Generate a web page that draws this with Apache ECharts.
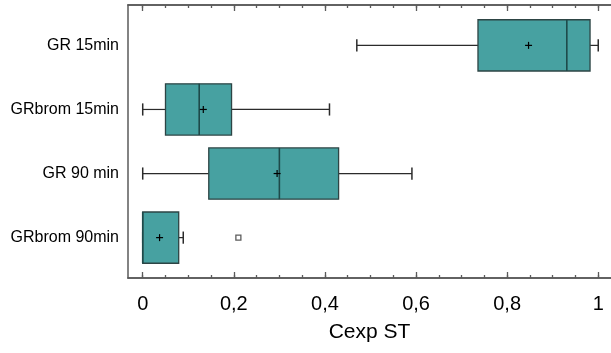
<!DOCTYPE html>
<html>
<head>
<meta charset="utf-8">
<script src="https://cdn.jsdelivr.net/npm/echarts@6/dist/echarts.min.js"></script>
<style>
  html, body { margin: 0; padding: 0; background: #fff; }
  #chart { width: 611px; height: 353px; }
</style>
</head>
<body>
<div id="chart"></div>
<script>
const categories = ['GR 15min', 'GRbrom 15min', 'GR 90 min', 'GRbrom 90min'];
const whiskerLow = [0.47, 0, 0, 0];
const q1 = [0.736, 0.05, 0.145, 0];
const median = [0.931, 0.124, 0.3, 0];
const q3 = [0.982, 0.195, 0.43, 0.079];
const whiskerHigh = [1.0, 0.41, 0.591, 0.089];
const means = [0.847, 0.133, 0.295, 0.037];
const outliers = [[0.21, 3]];

const majorTicks = [0, 0.2, 0.4, 0.6, 0.8, 1];
const minorTicks = [0, 0.05, 0.1, 0.15, 0.2, 0.25, 0.3, 0.35, 0.4, 0.45, 0.5,
  0.55, 0.6, 0.65, 0.7, 0.75, 0.8, 0.85, 0.9, 0.95, 1];

const FRAME = '#5a5a5a';
const FONT = 'Liberation Sans, Arial, sans-serif';

const chart = echarts.init(document.getElementById('chart'));

const boxData = categories.map((c, i) => [
  whiskerLow[i], q1[i], median[i], q3[i], whiskerHigh[i], means[i], i
]);

function renderBox(params, api) {
  const idx = api.value(6);
  const pt = (v) => api.coord([v, idx]);
  const boxH = api.size([0, 0.8])[1];
  const capH = api.size([0, 0.19])[1];
  const pMin = pt(api.value(0));
  const pQ1 = pt(api.value(1));
  const pMed = pt(api.value(2));
  const pQ3 = pt(api.value(3));
  const pMax = pt(api.value(4));
  const pMean = pt(api.value(5));
  const cy = pQ1[1];
  const line = (x1, y1, x2, y2, color, w) => ({
    type: 'line',
    shape: { x1, y1, x2, y2 },
    style: { stroke: color, lineWidth: w }
  });
  const whisk = '#2b2b2b';
  return {
    type: 'group',
    children: [
      line(pMin[0], cy, pQ1[0], cy, whisk, 1.2),
      line(pQ3[0], cy, pMax[0], cy, whisk, 1.2),
      line(pMin[0], cy - capH / 2, pMin[0], cy + capH / 2, whisk, 1.5),
      line(pMax[0], cy - capH / 2, pMax[0], cy + capH / 2, whisk, 1.5),
      {
        type: 'rect',
        shape: { x: pQ1[0], y: cy - boxH / 2, width: pQ3[0] - pQ1[0], height: boxH },
        style: { fill: '#47a1a1', stroke: '#2d4444', lineWidth: 1.3 }
      },
      line(pMed[0], cy - boxH / 2, pMed[0], cy + boxH / 2, '#1e4a4a', 1.6),
      line(pMean[0] - 3.5, cy, pMean[0] + 3.5, cy, '#000', 1.2),
      line(pMean[0], cy - 3.5, pMean[0], cy + 3.5, '#000', 1.2)
    ]
  };
}

const baseX = {
  type: 'value',
  min: -0.0323,
  max: 1.028,
  splitLine: { show: false },
  axisLine: { show: true, onZero: false, lineStyle: { color: FRAME, width: 1.5 } }
};

chart.setOption({
  animation: false,
  grid: { left: 128, right: 0, top: 5, bottom: 75 },
  xAxis: [
    Object.assign({}, baseX, {
      position: 'bottom',
      name: 'Cexp ST',
      nameLocation: 'middle',
      nameGap: 44,
      nameTextStyle: { fontFamily: FONT, fontSize: 21, color: '#000' },
      axisTick: { show: true, inside: true, length: 6, customValues: majorTicks,
        lineStyle: { color: FRAME, width: 1.3 } },
      axisLabel: { show: true, customValues: majorTicks, margin: 16,
        fontFamily: FONT, fontSize: 20, color: '#000',
        formatter: (v) => String(+v.toFixed(2)).replace('.', ',') }
    }),
    Object.assign({}, baseX, {
      position: 'bottom',
      axisTick: { show: true, inside: true, length: 3, customValues: minorTicks,
        lineStyle: { color: FRAME, width: 1.3 } },
      axisLabel: { show: false }
    }),
    Object.assign({}, baseX, {
      position: 'top',
      axisTick: { show: true, inside: true, length: 6, customValues: majorTicks,
        lineStyle: { color: FRAME, width: 1.3 } },
      axisLabel: { show: false }
    }),
    Object.assign({}, baseX, {
      position: 'top',
      axisTick: { show: true, inside: true, length: 3, customValues: minorTicks,
        lineStyle: { color: FRAME, width: 1.3 } },
      axisLabel: { show: false }
    })
  ],
  yAxis: {
    type: 'value',
    inverse: true,
    min: -0.63,
    max: 3.63,
    splitLine: { show: false },
    axisLine: { show: true, onZero: false, lineStyle: { color: FRAME, width: 1.5 } },
    axisTick: { show: false },
    axisLabel: {
      customValues: [0, 1, 2, 3],
      margin: 9,
      fontFamily: FONT,
      fontSize: 16,
      color: '#000',
      formatter: (v) => categories[Math.round(v)] || ''
    }
  },
  series: [
    {
      type: 'custom',
      xAxisIndex: 0,
      renderItem: renderBox,
      encode: { x: [0, 1, 2, 3, 4, 5], y: 6 },
      data: boxData
    },
    {
      type: 'scatter',
      xAxisIndex: 0,
      symbol: 'rect',
      symbolSize: 5,
      itemStyle: { color: '#fff', borderColor: '#333', borderWidth: 1.3 },
      data: outliers
    }
  ]
});
</script>
</body>
</html>
